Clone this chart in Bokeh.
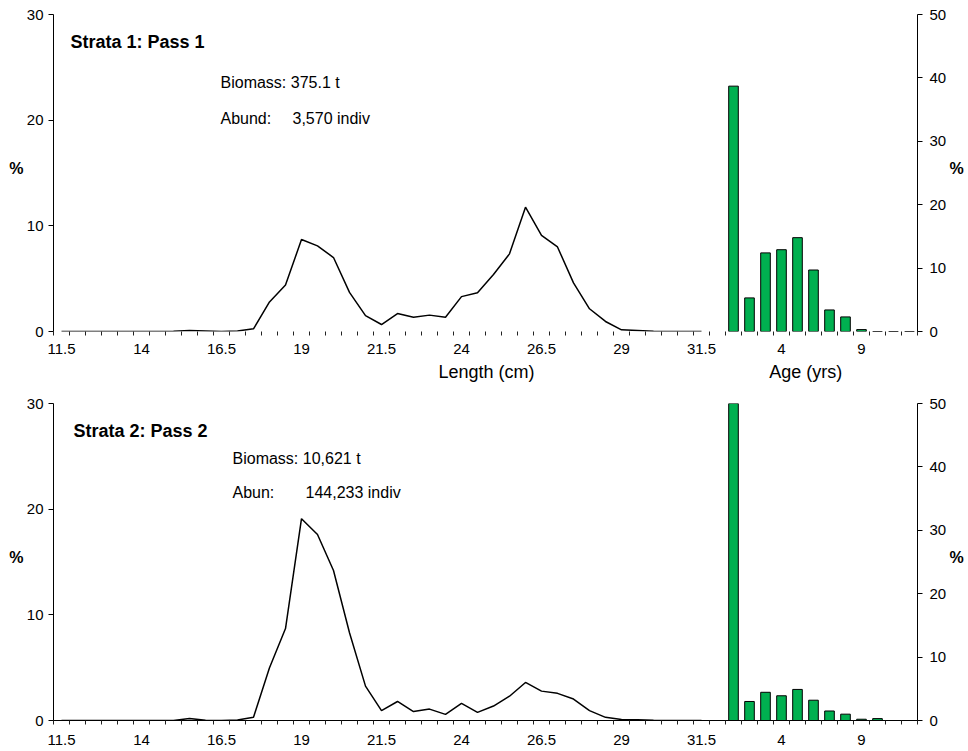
from bokeh.plotting import figure
from bokeh.models import Range1d, LinearAxis, FixedTicker, Label, ColumnDataSource
from bokeh.layouts import column
from bokeh.embed import file_html
from bokeh.resources import INLINE

# ---------------- data ----------------
length_labels = ["11.5", "12", "12.5", "13", "13.5", "14", "14.5", "15", "15.5", "16",
                 "16.5", "17", "17.5", "18", "18.5", "19", "19.5", "20", "20.5", "21",
                 "21.5", "22", "22.5", "23", "23.5", "24", "24.5", "25", "25.5", "26",
                 "26.5", "27", "27.5", "28", "28.5", "29", "29.5", "30", "30.5", "31", "31.5"]
age_labels = ["1", "2", "3", "4", "5", "6", "7", "8", "9", "10", "11", "12"]
categories = length_labels + [""] + age_labels

len_pct_1 = [0, 0, 0, 0, 0, 0, 0, 0.03, 0.1, 0.05,
             0, 0.05, 0.25, 2.8, 4.4, 8.7, 8.1, 7.0, 3.7, 1.5,
             0.66, 1.7, 1.35, 1.55, 1.35, 3.3, 3.66, 5.4, 7.35, 11.76,
             9.1, 8.0, 4.6, 2.15, 0.95, 0.16, 0.1, 0.02, 0, 0, 0]
age_pct_1 = [38.7, 5.3, 12.4, 12.9, 14.8, 9.7, 3.4, 2.3, 0.3, 0, 0, 0]

len_pct_2 = [0, 0, 0, 0, 0, 0, 0, 0, 0.2, 0.02,
             0, 0.05, 0.3, 5.0, 8.7, 19.1, 17.6, 14.2, 8.3, 3.25,
             0.93, 1.8, 0.85, 1.08, 0.58, 1.62, 0.77, 1.37, 2.3, 3.6,
             2.78, 2.57, 2.03, 0.93, 0.3, 0.1, 0.07, 0.03, 0, 0, 0]
age_pct_2 = [50, 3.0, 4.45, 3.9, 4.9, 3.2, 1.5, 1.0, 0.2, 0.3, 0, 0]

left_ticks = [0, 10, 20, 30]
right_ticks = [0, 10, 20, 30, 40, 50]

FONT = "Liberation Sans"
GREEN = "#00B050"

len_x = [categories.index(c) for c in length_labels]
age_x = [len(length_labels) + 1 + k for k in range(len(age_labels))]
label_pos = list(range(0, len(categories), 5))
label_over = {i: categories[i] for i in label_pos}
boundaries = [i - 0.5 for i in range(len(categories) + 1)]


def plain_axis(ax, size, bold=False, standoff=0):
    ax.axis_line_color = None
    ax.major_tick_line_color = None
    ax.minor_tick_line_color = None
    ax.major_tick_out = 0
    ax.major_tick_in = 0
    ax.minor_tick_out = 0
    ax.minor_tick_in = 0
    ax.major_label_text_font = FONT
    ax.major_label_text_font_size = size
    ax.major_label_text_font_style = "bold" if bold else "normal"
    ax.major_label_text_color = "black"
    ax.major_label_standoff = standoff


def make_panel(len_vals, age_vals, height, fw, fh, mb_left, mb_top,
               x_axis_line, texts, standoff, pct_pos, xtitles):
    p = figure(width=968, height=height, output_backend="svg", toolbar_location=None,
               x_range=Range1d(-0.5, len(categories) - 0.5), y_range=Range1d(0, 30),
               min_border_left=mb_left, min_border_right=968 - mb_left - fw,
               min_border_top=mb_top, min_border_bottom=height - mb_top - fh)
    p.outline_line_color = None
    p.grid.visible = False
    p.background_fill_color = "white"
    p.border_fill_color = "white"
    p.extra_y_ranges = {"age": Range1d(0, 50), "px": Range1d(0, fh)}
    p.extra_x_ranges = {"px": Range1d(0, fw)}

    # x axis (category ticks)
    xa = p.xaxis[0]
    xa.ticker = FixedTicker(ticks=label_pos, minor_ticks=boundaries)
    xa.major_label_overrides = label_over
    xa.major_tick_out = 0
    xa.major_tick_in = 0
    xa.minor_tick_out = 4
    xa.minor_tick_in = 0
    xa.minor_tick_line_color = "#222222"
    xa.axis_line_color = "black" if x_axis_line else None
    xa.major_label_text_font = FONT
    xa.major_label_text_font_size = "15px"
    xa.major_label_text_color = "black"
    xa.major_label_standoff = standoff

    # x-axis titles (second, outer axis row)
    if xtitles:
        ta = LinearAxis(x_range_name="px",
                        ticker=FixedTicker(ticks=[t[1] for t in xtitles], minor_ticks=[]))
        ta.major_label_overrides = {t[1]: t[0] for t in xtitles}
        plain_axis(ta, "18px", standoff=5)
        p.add_layout(ta, "below")

    # left axis
    ya = p.yaxis[0]
    ya.ticker = FixedTicker(ticks=left_ticks, minor_ticks=[])
    ya.major_tick_out = 5
    ya.major_tick_in = 0
    ya.axis_line_color = "black"
    ya.major_tick_line_color = "black"
    ya.major_label_text_font = FONT
    ya.major_label_text_font_size = "15px"
    ya.major_label_text_color = "black"
    ya.major_label_standoff = 5

    # left "%" title
    lp = LinearAxis(y_range_name="px", ticker=FixedTicker(ticks=[pct_pos], minor_ticks=[]))
    lp.major_label_overrides = {pct_pos: "%"}
    plain_axis(lp, "16px", bold=True, standoff=0)
    p.add_layout(lp, "left")

    # right axis
    ra = LinearAxis(y_range_name="age", ticker=FixedTicker(ticks=right_ticks, minor_ticks=[]))
    ra.major_tick_out = 5
    ra.major_tick_in = 0
    ra.axis_line_color = "black"
    ra.major_tick_line_color = "black"
    ra.major_label_text_font = FONT
    ra.major_label_text_font_size = "15px"
    ra.major_label_text_color = "black"
    ra.major_label_standoff = 7
    p.add_layout(ra, "right")

    # right "%" title
    rp = LinearAxis(y_range_name="px", ticker=FixedTicker(ticks=[pct_pos], minor_ticks=[]))
    rp.major_label_overrides = {pct_pos: "%"}
    plain_axis(rp, "16px", bold=True, standoff=0)
    p.add_layout(rp, "right")

    src_len = ColumnDataSource(dict(x=len_x, y=len_vals))
    p.line("x", "y", source=src_len, line_color="black", line_width=1.5)

    src_age = ColumnDataSource(dict(x=age_x, top=age_vals))
    p.vbar(x="x", top="top", bottom=0, width=0.6, source=src_age, y_range_name="age",
           fill_color=GREEN, line_color="black", line_width=1)

    for (txt, x, y, size, bold) in texts:
        p.add_layout(Label(x=x, y=y, x_units="screen", y_units="screen", text=txt,
                           text_font=FONT, text_font_size=size,
                           text_font_style="bold" if bold else "normal",
                           text_align="left", text_baseline="middle", text_color="black"))
    return p


texts1 = [
    ("Strata 1: Pass 1", 17, 290, "18px", True),
    ("Biomass: 375.1 t", 167, 249, "16px", False),
    ("Abund:", 167, 213, "16px", False),
    ("3,570 indiv", 239, 213, "16px", False),
]
texts2 = [
    ("Strata 2: Pass 2", 20, 290, "18px", True),
    ("Biomass: 10,621 t", 179, 262, "16px", False),
    ("Abun:", 179, 228, "16px", False),
    ("144,233 indiv", 252, 228, "16px", False),
]
xtitles1 = [("Length (cm)", 434), ("Age (yrs)", 754)]

p1 = make_panel(len_pct_1, age_pct_1, 392, 866, 317, 51, 14, False, texts1, 8, 163, xtitles1)
p2 = make_panel(len_pct_2, age_pct_2, 359, 869, 317, 53, 11, True, texts2, 10, 163, None)

layout = column(p1, p2, spacing=0)
open("out.html", "w").write(file_html(layout, INLINE))
